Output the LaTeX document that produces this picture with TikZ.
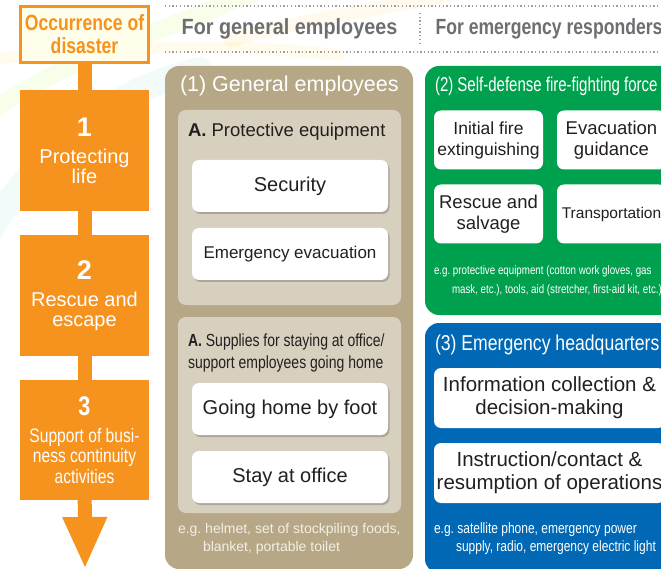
\documentclass[tikz,border=0pt]{standalone}
\usepackage{fontspec}
\setmainfont{Liberation Sans}
\newfontfamily\condfont[FakeStretch=0.8]{Liberation Sans}
\newfontfamily\tightfont[FakeStretch=0.75]{Liberation Sans}
\newfontfamily\semicond[FakeStretch=0.82]{Liberation Sans}
\newfontfamily\widecond[FakeStretch=0.9]{Liberation Sans}
\usetikzlibrary{arrows.meta, positioning, shadows}

\definecolor{dorange}{HTML}{F6921E}
\definecolor{tanbg}{HTML}{B6A786}
\definecolor{tanlight}{HTML}{D8D0BE}
\definecolor{fgreen}{HTML}{00A14E}
\definecolor{hqblue}{HTML}{0068B5}
\definecolor{ink}{HTML}{231F20}
\definecolor{headgray}{HTML}{6D6E71}
\definecolor{cream}{HTML}{F4EFE4}

\begin{document}
\begin{tikzpicture}[
    x=1pt, y=-1pt,
    every node/.style={inner sep=0pt, outer sep=0pt},
    stepbox/.style={fill=dorange, text=white, minimum width=129pt, minimum height=121pt,
        align=center, font=\fontsize{20}{20}\selectfont},
    stem/.style={draw=dorange, line width=14pt},
    panel/.style={rounded corners=14pt, anchor=north west},
    group/.style={fill=tanlight, rounded corners=8pt, anchor=north west, minimum width=223pt},
    ptitle/.style={text=white, anchor=west},
    item/.style={fill=white, rounded corners=7pt, text=ink, align=center},
    tanitem/.style={item, minimum width=196pt, minimum height=52pt,
        font=\fontsize{20}{22}\selectfont,
        drop shadow={shadow xshift=1.5pt, shadow yshift=-2pt, opacity=.45, fill=black!55}},
    fireitem/.style={item, minimum width=109pt, minimum height=59pt},
    hqitem/.style={item, minimum width=231pt, minimum height=60pt, font=\fontsize{20.5}{23}\selectfont},
    note/.style={anchor=west, align=left},
    heading/.style={text=headgray, font=#1\bfseries\fontsize{22}{24}\selectfont},
    rule/.style={draw=gray!75, line width=1.3pt, dash pattern=on 1.3pt off 2.4pt}
]
    \useasboundingbox (0,0) rectangle (661,569);
    \clip (0,0) rectangle (661,569);

    % faint streaks in the background
    \begin{scope}[line cap=round]
        \draw[line width=18pt, draw=green!40!yellow, opacity=.08] (-20,120) .. controls (60,60) and (140,40) .. (260,-10);
        \draw[line width=12pt, draw=yellow!70!orange, opacity=.07] (-20,60) .. controls (80,50) and (200,40) .. (340,55);
        \draw[line width=26pt, draw=cyan!40!green, opacity=.05] (-10,230) .. controls (40,150) and (110,90) .. (200,70);
        \draw[line width=14pt, draw=orange!50!yellow, opacity=.07] (230,40) .. controls (300,20) and (380,10) .. (470,-10);
    \end{scope}

    % disaster flow
    \node[draw=dorange, line width=3pt, fill=white!92!yellow, minimum width=128pt, minimum height=56pt,
        text=dorange, align=center, font=\condfont\bfseries\fontsize{22}{23}\selectfont]
        (occ) at (84.5,34.5) {Occurrence of\\disaster};
    \node[stepbox] (step1) at (84.5,150.5) {{\fontsize{27}{30}\selectfont\bfseries 1}\\[7pt]Protecting\\life};
    \node[stepbox] (step2) at (84.5,295.5) {{\fontsize{27}{30}\selectfont\bfseries 2}\\[7pt]Rescue and\\escape};
    \node[stepbox, minimum height=120pt, font=\condfont\fontsize{19.5}{20.5}\selectfont]
        (step3) at (84.5,440) {{\fontsize{27}{30}\selectfont\bfseries 3}\\[6pt]Support of busi-\\ness continuity\\activities};
    \coordinate (goal) at (85,569);

    \draw[stem] (occ) -- (step1);
    \draw[stem] (step1) -- (step2);
    \draw[stem] (step2) -- (step3);
    \draw[stem, -{Triangle[width=41pt, length=52pt]}] (step3) -- (goal);

    % column headings
    \draw[rule] (165,6) -- (661,6);
    \draw[rule] (165,52) -- (661,52);
    \draw[rule] (420,13) -- (420,45);
    \node[heading=\widecond] (hgen) at (289.5,29) {For general employees};
    \node[heading=\condfont] (hemg) at (549,29) {For emergency responders};

    % (1) general employees
    \node[panel, fill=tanbg, minimum width=248pt, minimum height=503pt] (gen) at (165,66) {};
    \node[ptitle, font=\fontsize{21.5}{24}\selectfont] at (180,86) {(1) General employees};

    \node[group, minimum height=195pt] (prot) at (178,110) {};
    \node[anchor=west, text=ink, font=\fontsize{18.5}{22}\selectfont] at (188,132) {\textbf{A.} Protective equipment};
    \node[tanitem] (sec) at (290,186) {Security};
    \node[tanitem, font=\fontsize{17}{20}\selectfont] (evac) at (290,254) {Emergency evacuation};

    \node[group, minimum height=196pt] (supp) at (178,317) {};
    \node[anchor=west, align=left, text=ink, font=\condfont\fontsize{17.5}{22}\selectfont] at (188,353)
        {\textbf{A.} Supplies for staying at office/\\support employees going home};
    \node[tanitem] (home) at (290,409) {Going home by foot};
    \node[tanitem] (stay) at (290,477) {Stay at office};

    \node[note, text=cream, font=\frenchspacing\fontsize{14}{18}\selectfont] at (178,539)
        {e.g. helmet, set of stockpiling foods,\\\hspace*{25pt}blanket, portable toilet};

    % (2) self-defense fire-fighting force
    \node[panel, fill=fgreen, minimum width=252pt, minimum height=249pt] (fire) at (425,66) {};
    \node[ptitle, font=\tightfont\fontsize{20}{24}\selectfont] at (435,86) {(2) Self-defense fire-fighting force};

    \node[fireitem, font=\fontsize{17.5}{21}\selectfont] (init) at (488.5,140) {Initial fire\\extinguishing};
    \node[fireitem, font=\fontsize{18.5}{21}\selectfont, right=14pt of init] (guide) {Evacuation\\guidance};
    \node[fireitem, font=\fontsize{18.5}{21}\selectfont, below=15pt of init] (salv) {Rescue and\\salvage};
    \node[fireitem, font=\fontsize{15.5}{21}\selectfont, right=14pt of salv] (trans) {Transportation};

    \node[note, text=white, font=\frenchspacing\condfont\fontsize{12.2}{19}\selectfont] at (434,280.5)
        {e.g. protective equipment (cotton work gloves, gas\\\hspace*{18pt}mask, etc.), tools, aid (stretcher, first-aid kit, etc.)};

    % (3) emergency headquarters
    \node[panel, fill=hqblue, minimum width=252pt, minimum height=250pt] (hq) at (425,323) {};
    \node[ptitle, font=\semicond\fontsize{21.5}{24}\selectfont] at (435,345) {(3) Emergency headquarters};

    \node[hqitem] (info) at (549.5,398) {Information collection \&\\decision-making};
    \node[hqitem, below=15pt of info] (instr) {Instruction/contact \&\\resumption of operations};

    \node[note, text=white, font=\frenchspacing\condfont\fontsize{15}{18}\selectfont] at (434,539)
        {e.g. satellite phone, emergency power\\\hspace*{22pt}supply, radio, emergency electric light};
\end{tikzpicture}
\end{document}
